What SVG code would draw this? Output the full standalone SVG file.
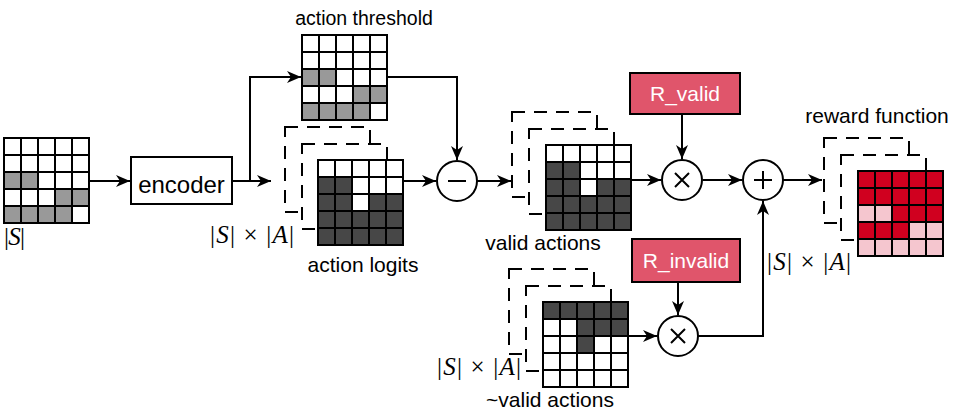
<svg xmlns="http://www.w3.org/2000/svg" xmlns:xlink="http://www.w3.org/1999/xlink" width="956" height="417" viewBox="0 0 956 417">
<style>
.sans{font-family:"Liberation Sans",Arial,sans-serif;fill:#000}
.lbl{font-size:21px;text-anchor:middle}
.math{font-family:"Liberation Serif","Times New Roman",serif;font-size:25px;fill:#000}
.it{font-style:italic}
.ln{fill:none;stroke:#000;stroke-width:2}
.arr{fill:none;stroke:#000;stroke-width:2;marker-end:url(#ah)}
.frame{fill:#fff;stroke:#000;stroke-width:2;stroke-dasharray:13 9}
.g{fill:#999}
.d{fill:#474747}
.r{fill:#d0001f}
.p{fill:#f5c6cf}
.rbox{fill:#e0556b;stroke:#000;stroke-width:2}
.op{fill:#fff;stroke:#000;stroke-width:2}
</style>
<defs>
<marker id="ah" markerUnits="userSpaceOnUse" markerWidth="14" markerHeight="12" viewBox="0 0 14 12" refX="14" refY="6" orient="auto">
<path d="M0,0 L14,6 L0,12 L4,6 Z" fill="#000"/>
</marker>
<g id="lines">
<rect x="0" y="0" width="85" height="85" fill="none" stroke="#000" stroke-width="2"/>
<path d="M17,0V85M34,0V85M51,0V85M68,0V85M0,17H85M0,34H85M0,51H85M0,68H85" fill="none" stroke="#000" stroke-width="2"/>
</g>
<g id="patA">
<rect x="0" y="0" width="85" height="85" fill="#fff"/>
<rect class="g" x="0" y="34" width="34" height="17"/>
<rect class="g" x="51" y="51" width="34" height="17"/>
<rect class="g" x="0" y="68" width="68" height="17"/>
<use xlink:href="#lines"/>
</g>
<g id="patB">
<rect x="0" y="0" width="85" height="85" fill="#fff"/>
<rect class="d" x="0" y="17" width="34" height="34"/>
<rect class="d" x="51" y="34" width="34" height="17"/>
<rect class="d" x="0" y="51" width="85" height="34"/>
<use xlink:href="#lines"/>
</g>
<g id="frames">
<rect class="frame" x="-34" y="-34" width="85" height="85"/>
<rect class="frame" x="-17" y="-17" width="85" height="85"/>
</g>
</defs>

<g id="connectors">
<line class="arr" x1="89" y1="181" x2="130" y2="181"/>
<line class="arr" x1="232" y1="181" x2="271" y2="181"/>
<polyline class="arr" points="250,181 250,77 301,77"/>
<polyline class="arr" points="387,77 457,77 457,160"/>
<line class="arr" x1="403" y1="181" x2="436" y2="181"/>
<line class="arr" x1="477" y1="181" x2="511" y2="181"/>
<line class="arr" x1="631" y1="180" x2="661" y2="180"/>
<line class="arr" x1="682" y1="114" x2="682" y2="159"/>
<line class="arr" x1="703" y1="180" x2="742" y2="180"/>
<line class="arr" x1="783" y1="180" x2="822" y2="180"/>
<line class="arr" x1="628" y1="336" x2="657" y2="336"/>
<line class="arr" x1="678" y1="282" x2="678" y2="315"/>
<polyline class="arr" points="698,336 763,336 763,201"/>
</g>

<g id="state">
<use xlink:href="#patA" x="4" y="138"/>
<text class="math" x="4" y="245" textLength="21" lengthAdjust="spacing">|<tspan class="it">S</tspan>|</text>
</g>

<g id="encoder">
<rect x="131" y="157" width="101" height="47" fill="#fff" stroke="#000" stroke-width="2"/>
<text class="sans" x="181.5" y="193" font-size="24" text-anchor="middle">encoder</text>
</g>

<g id="threshold">
<use xlink:href="#patA" x="302" y="35"/>
<text class="sans lbl" x="364" y="25" style="font-size:19.5px">action threshold</text>
</g>

<g id="logits">
<use xlink:href="#frames" x="319" y="161"/>
<use xlink:href="#patB" x="318" y="160"/>
<text class="math" x="210" y="243" textLength="84" lengthAdjust="spacing">|<tspan class="it">S</tspan>| × |<tspan class="it">A</tspan>|</text>
<text class="sans lbl" x="363" y="272">action logits</text>
</g>

<g id="minus">
<circle class="op" cx="457" cy="181" r="20"/>
<line class="ln" x1="448" y1="181" x2="466" y2="181" stroke-width="2.5"/>
</g>

<g id="valid">
<use xlink:href="#frames" x="546" y="146"/>
<use xlink:href="#patB" x="546" y="145"/>
<text class="sans lbl" x="543" y="250">valid actions</text>
</g>

<g id="notvalid">
<use xlink:href="#frames" x="543" y="303"/>
<rect x="543" y="302" width="85" height="85" fill="#fff"/>
<rect class="d" x="543" y="302" width="85" height="17"/>
<rect class="d" x="577" y="319" width="51" height="17"/>
<rect class="d" x="577" y="336" width="17" height="17"/>
<use xlink:href="#lines" x="543" y="302"/>
<text class="math" x="437" y="375" textLength="84" lengthAdjust="spacing">|<tspan class="it">S</tspan>| × |<tspan class="it">A</tspan>|</text>
<text class="sans lbl" x="550" y="407">~valid actions</text>
</g>

<g id="rvalid">
<rect class="rbox" x="630" y="73" width="110" height="41"/>
<text class="sans" x="685" y="101" font-size="21" text-anchor="middle" style="fill:#fff">R_valid</text>
</g>

<g id="rinvalid">
<rect class="rbox" x="632" y="239" width="108" height="43"/>
<text class="sans" x="686" y="268" font-size="21" text-anchor="middle" style="fill:#fff">R_invalid</text>
</g>

<g id="times1">
<circle class="op" cx="682" cy="180" r="20"/>
<path class="ln" d="M675,173L689,187M689,173L675,187"/>
</g>

<g id="times2">
<circle class="op" cx="678" cy="336" r="20"/>
<path class="ln" d="M671,329L685,343M685,329L671,343"/>
</g>

<g id="plus">
<circle class="op" cx="763" cy="180" r="20"/>
<path class="ln" d="M754,180H772M763,171V189"/>
</g>

<g id="reward">
<use xlink:href="#frames" x="858" y="172"/>
<rect class="r" x="858" y="171" width="85" height="85"/>
<rect class="p" x="858" y="205" width="34" height="17"/>
<rect class="p" x="909" y="222" width="34" height="17"/>
<rect class="p" x="858" y="239" width="85" height="17"/>
<use xlink:href="#lines" x="858" y="171"/>
<text class="sans lbl" x="877" y="123">reward function</text>
<text class="math" x="767" y="270" textLength="84" lengthAdjust="spacing">|<tspan class="it">S</tspan>| × |<tspan class="it">A</tspan>|</text>
</g>
</svg>
